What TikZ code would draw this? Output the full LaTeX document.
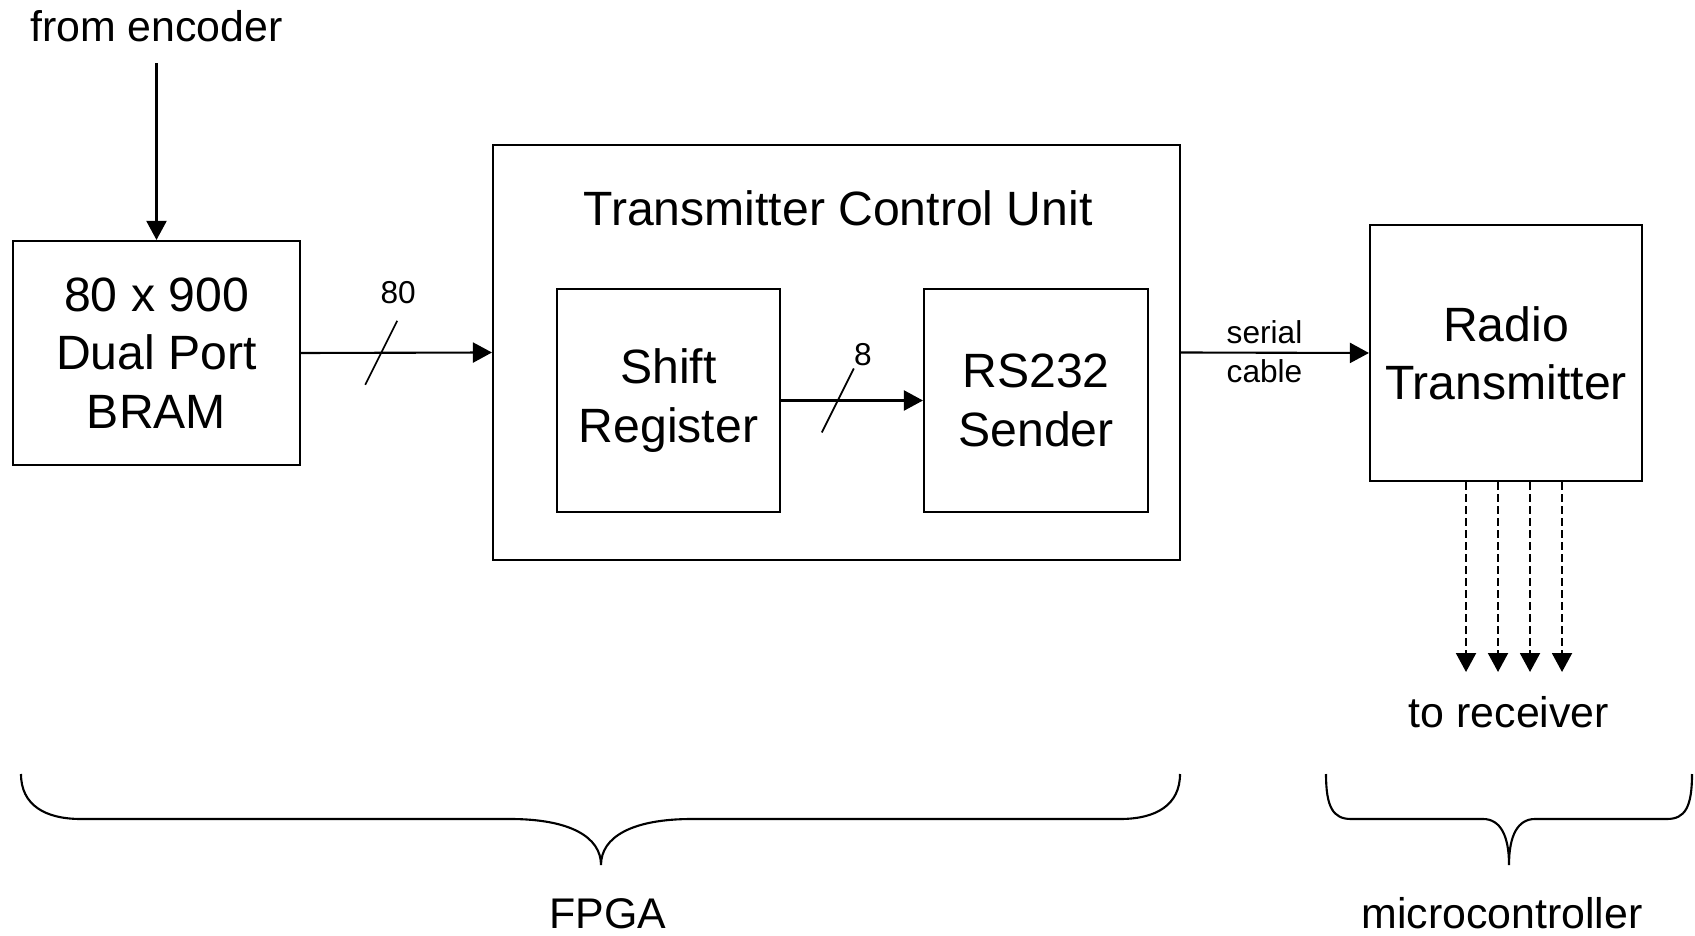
\documentclass[tikz,border=0pt]{standalone}
\usepackage{fontspec}
\setmainfont{Liberation Sans}
\usetikzlibrary{arrows.meta, positioning, calc}

\begin{document}
\begin{tikzpicture}[
    >={Triangle[length=0.19cm, width=0.2cm]},
    line width=0.6pt,
    block/.style={draw, align=center, inner sep=0pt, font=\fontsize{13.7}{16.6}\selectfont},
    lbl/.style={font=\fontsize{12.2}{14.6}\selectfont},
    tiny/.style={font=\fontsize{9}{11.1}\selectfont, align=center},
    sig/.style={->, dash pattern=on 0.08cm off 0.04cm},
]
    \useasboundingbox (0,0) rectangle (16.95,9.35);

    % Blocks
    \node[block, minimum width=2.87cm, minimum height=2.24cm] (bram) at (1.565,5.82) {80 x 900\\Dual Port\\BRAM};
    \node[block, minimum width=6.87cm, minimum height=4.15cm] (tcu) at (8.365,5.825) {};
    \node[block, draw=none, anchor=base] (tcutitle) at (8.38,7.09) {Transmitter Control Unit};
    \node[block, minimum width=2.23cm, minimum height=2.23cm] (shift) at (6.685,5.345) {Shift\\Register};
    \node[block, minimum width=2.24cm, minimum height=2.23cm] (rs) at (10.36,5.345) {RS232\\Sender};
    \node[block, minimum width=2.72cm, minimum height=2.56cm] (radio) at (15.06,5.82) {Radio\\Transmitter};

    % Input from the encoder
    \node[lbl, anchor=base] (enc) at (1.565,8.93) {from encoder};
    \draw[->] (enc.south) ++(0,-0.08) -- (bram.north);

    % 80 bit bus
    \draw[->] (bram.east) -- (tcu.west);
    \coordinate (w80) at ($(bram.east)!0.42!(tcu.west)$);
    \draw[line width=0.5pt] ($(w80)+(-0.16,-0.32)$) -- ($(w80)+(0.16,0.32)$);
    \node[tiny, anchor=base] (n80) at ($(w80)+(0.17,0.49)$) {80};

    % 8 bit bus
    \draw[->] (shift.east) -- (rs.west);
    \coordinate (w8) at ($(shift.east)!0.40!(rs.west)$);
    \draw[line width=0.5pt] ($(w8)+(-0.16,-0.32)$) -- ($(w8)+(0.16,0.32)$);
    \node[tiny, anchor=base] (n8) at ($(w8)+(0.25,0.35)$) {8};

    % Serial link
    \draw[->] (tcu.east) -- (radio.west);
    \node[tiny, anchor=base] (cable) at (12.645,5.52) {serial\\cable};

    % Outputs to the receiver
    \foreach \x [count=\i] in {14.66,14.98,15.30,15.62} {
        \coordinate (rx\i) at (\x,2.63);
        \draw[sig] (radio.south -| rx\i) -- (rx\i);
    }
    \node[lbl, anchor=base] (recv) at (15.09,2.08) {to receiver};

    % Braces
    \draw (0.21,1.61) .. controls (0.21,1.30) and (0.45,1.16) .. (0.81,1.16)
        -- (5.10,1.16) .. controls (5.70,1.16) and (6.01,0.98) .. (6.01,0.70)
        .. controls (6.01,0.98) and (6.32,1.16) .. (6.92,1.16)
        -- (11.20,1.16) .. controls (11.56,1.16) and (11.80,1.30) .. (11.80,1.61);
    \draw (13.26,1.61) .. controls (13.26,1.28) and (13.33,1.16) .. (13.51,1.16)
        -- (14.83,1.16) .. controls (15.00,1.16) and (15.09,1.00) .. (15.09,0.70)
        .. controls (15.09,1.00) and (15.18,1.16) .. (15.35,1.16)
        -- (16.67,1.16) .. controls (16.85,1.16) and (16.92,1.28) .. (16.92,1.61);
    \node[lbl, anchor=base] (fpga) at (6.08,0.07) {FPGA};
    \node[lbl, anchor=base] (micro) at (15.02,0.07) {microcontroller};
\end{tikzpicture}
\end{document}
